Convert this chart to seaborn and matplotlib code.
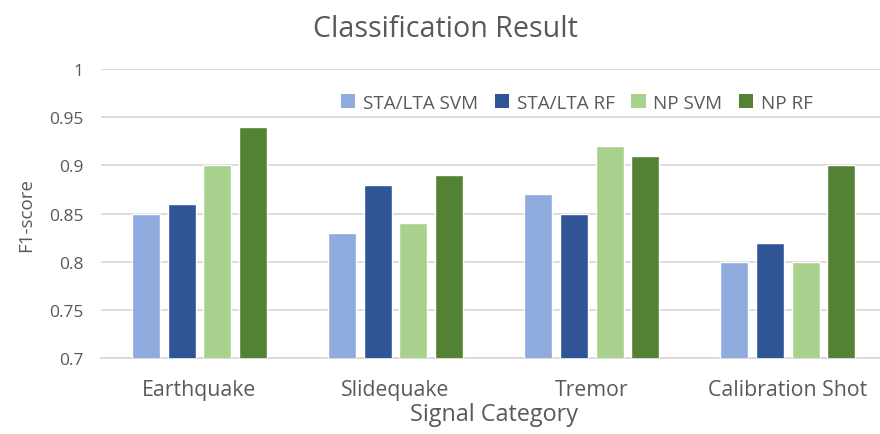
import matplotlib
matplotlib.use("Agg")
import matplotlib.pyplot as plt
import seaborn as sns
import pandas as pd
from matplotlib.patches import Patch

categories = ["Earthquake", "Slidequake", "Tremor", "Calibration Shot"]
series = ["STA/LTA SVM", "STA/LTA RF", "NP SVM", "NP RF"]
sta_svm = [0.85, 0.83, 0.87, 0.80]
sta_rf = [0.86, 0.88, 0.85, 0.82]
np_svm = [0.90, 0.84, 0.92, 0.80]
np_rf = [0.94, 0.89, 0.91, 0.90]
colors = ["#8FAADC", "#2F5597", "#A9D18E", "#548235"]
yticks = [0.7, 0.75, 0.8, 0.85, 0.9, 0.95, 1.0]
ytick_labels = ["0.7", "0.75", "0.8", "0.85", "0.9", "0.95", "1"]

rows = []
for s, vals in zip(series, [sta_svm, sta_rf, np_svm, np_rf]):
    for c, v in zip(categories, vals):
        rows.append({"Category": c, "Series": s, "Value": v})
df = pd.DataFrame(rows)

sns.set_style("white")
plt.rcParams["font.family"] = ["Open Sans", "DejaVu Sans"]

fig = plt.figure(figsize=(8.8, 4.35), dpi=100)
ax = fig.add_axes([0.1152, 0.1736, 0.8916, 0.6655])

sns.barplot(data=df, x="Category", y="Value", hue="Series", palette=colors,
            hue_order=series, order=categories, width=0.728, gap=0.215,
            saturation=1, ax=ax, legend=False, zorder=3)

ax.set_ylim(0.7, 1.0)
ax.set_yticks(yticks)
ax.set_yticklabels(ytick_labels)
ax.yaxis.grid(True, color="#D9D9D9", linewidth=1.3, zorder=0)
ax.set_axisbelow(True)
for sp in ["top", "right", "left"]:
    ax.spines[sp].set_visible(False)
ax.spines["bottom"].set_color("#D9D9D9")
ax.spines["bottom"].set_linewidth(1.3)
ax.tick_params(axis="both", length=0, colors="#595959")
ax.tick_params(axis="x", labelsize=15.3, pad=15)
ax.tick_params(axis="y", labelsize=12.5, pad=13)
ax.set_xlabel("Signal Category", fontsize=16.8, color="#595959", labelpad=1)
ax.set_ylabel("F1-score", fontsize=13.5, color="#595959", labelpad=10)
ax.set_xlim(-0.5, 3.5)

fig.suptitle("Classification Result", fontsize=20.6, color="#595959",
             x=0.506, y=0.965)

handles = [Patch(facecolor=c, edgecolor="none") for c in colors]
leg = fig.legend(handles, series, loc="center left",
                 bbox_to_anchor=(0.3875, 0.761), ncol=4, frameon=False,
                 fontsize=13.6, handlelength=0.75, handleheight=0.75,
                 handletextpad=0.4, columnspacing=0.9, borderpad=0,
                 borderaxespad=0, labelcolor="#595959")
leg.set_zorder(10)

fig.savefig("out.png", dpi=100)
